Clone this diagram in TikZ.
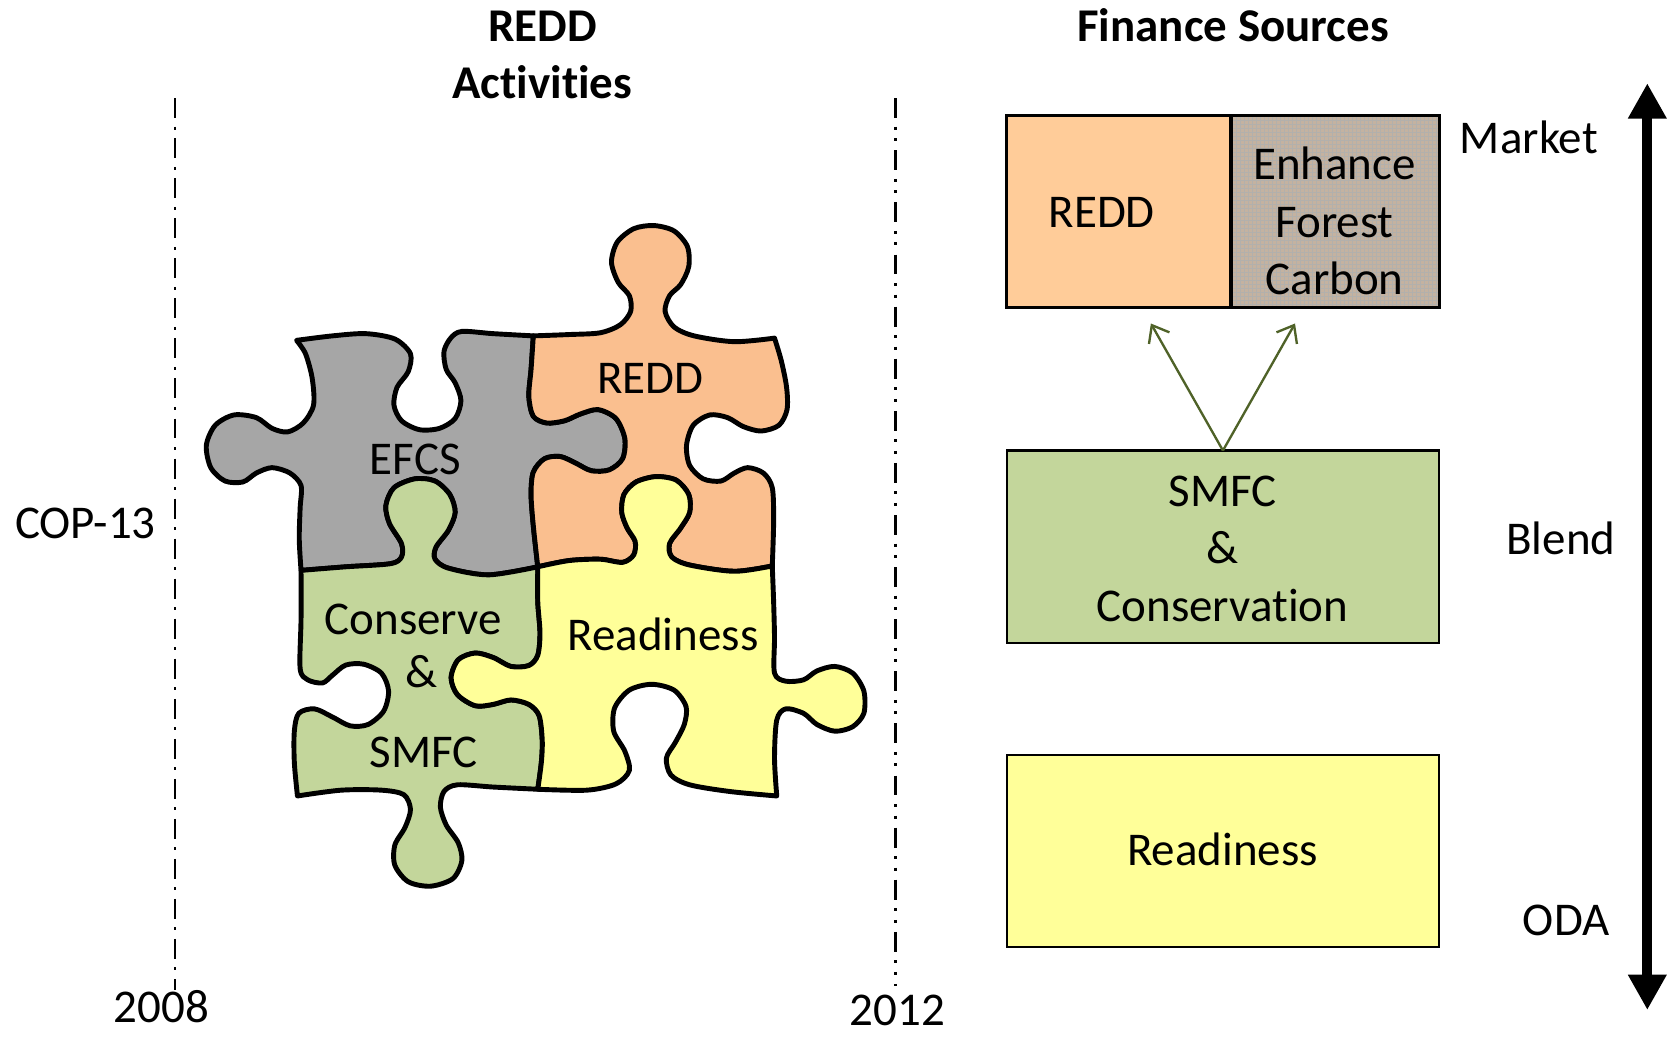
\documentclass[tikz,border=0pt]{standalone}
\usepackage{fontspec}
\setmainfont{Carlito}[Ligatures={NoCommon}]
\usetikzlibrary{arrows.meta}
\definecolor{pzgrey}{HTML}{A6A6A6}
\definecolor{pzorange}{HTML}{FABF8F}
\definecolor{pzgreen}{HTML}{C3D69B}
\definecolor{pzyellow}{HTML}{FFFF99}
\definecolor{peach}{HTML}{FFCC99}
\definecolor{efcfill}{RGB}{196,178,160}
\definecolor{efcgrid}{RGB}{178,176,172}
\definecolor{olivearrow}{HTML}{4F6228}
% puzzle edges (coordinates of the zoomed trace)
\def\GreyTop{-- plot[smooth] coordinates {(260,315) (340,305) (415,300) (480,312) (515,345) (510,385) (485,420) (478,460) (495,495) (535,515) (580,512) (615,490) (628,450) (615,410) (595,380) (590,340) (605,310) (630,295) (700,300) (790,305)}}
\def\GOF{-- plot[smooth] coordinates {(790,305) (785,380) (780,440) (790,485) (820,500) (860,495) (895,480) (935,470) (975,490) (995,535) (990,580) (960,605) (920,607) (885,590) (850,575) (815,580) (790,610) (785,660) (790,730) (800,822)}}
\def\GOR{-- plot[smooth] coordinates {(800,822) (790,730) (785,660) (790,610) (815,580) (850,575) (885,590) (920,607) (960,605) (990,580) (995,535) (975,490) (935,470) (895,480) (860,495) (820,500) (790,485) (780,440) (785,380) (790,305)}}
\def\OrangeTop{-- plot[smooth] coordinates {(790,305) (870,302) (940,298) (985,280) (1008,250) (1005,215) (980,185) (965,140) (978,95) (1015,65) (1060,58) (1105,70) (1135,105) (1138,150) (1120,190) (1095,215) (1085,250) (1105,285) (1150,305) (1240,318) (1330,310)}}
\def\OrangeRight{-- plot[smooth] coordinates {(1330,310) (1345,360) (1357,420) (1358,470) (1340,505) (1300,518) (1260,508) (1225,488) (1185,482) (1148,505) (1133,550) (1140,595) (1170,625) (1210,630) (1240,612) (1270,600) (1305,612) (1325,645) (1328,720) (1325,820)}}
\def\OYF{-- plot[smooth] coordinates {(800,822) (870,808) (940,805) (990,812) (1015,795) (1018,765) (1000,735) (988,700) (993,660) (1020,632) (1065,620) (1110,628) (1138,660) (1140,700) (1120,735) (1095,770) (1100,800) (1140,818) (1240,832) (1325,820)}}
\def\OYR{-- plot[smooth] coordinates {(1325,820) (1240,832) (1140,818) (1100,800) (1095,770) (1120,735) (1140,700) (1138,660) (1110,628) (1065,620) (1020,632) (993,660) (988,700) (1000,735) (1018,765) (1015,795) (990,812) (940,805) (870,808) (800,822)}}
\def\YellowRight{-- plot[smooth] coordinates {(1325,820) (1328,900) (1330,980) (1330,1060) (1355,1078) (1395,1075) (1425,1055) (1465,1045) (1505,1060) (1530,1100) (1530,1150) (1505,1180) (1465,1190) (1425,1175) (1395,1150) (1355,1140) (1335,1165) (1330,1250) (1335,1335)}}
\def\YellowBottom{-- plot[smooth] coordinates {(1335,1335) (1230,1325) (1140,1310) (1098,1288) (1088,1250) (1108,1215) (1128,1175) (1132,1135) (1105,1098) (1055,1085) (1005,1098) (972,1138) (970,1190) (995,1235) (1005,1278) (975,1308) (910,1322) (800,1320)}}
\def\GYF{-- plot[smooth] coordinates {(800,822) (800,900) (805,970) (800,1020) (780,1043) (740,1045) (700,1025) (660,1015) (622,1030) (606,1070) (620,1108) (660,1133) (700,1130) (740,1120) (780,1130) (803,1155) (810,1210) (808,1260) (800,1320)}}
\def\GYR{-- plot[smooth] coordinates {(800,1320) (808,1260) (810,1210) (803,1155) (780,1130) (740,1120) (700,1130) (660,1133) (620,1108) (606,1070) (622,1030) (660,1015) (700,1025) (740,1045) (780,1043) (800,1020) (805,970) (800,900) (800,822)}}
\def\GGF{-- plot[smooth] coordinates {(270,830) (370,822) (470,815) (495,800) (495,770) (468,725) (460,685) (478,645) (525,625) (570,630) (603,660) (615,700) (600,740) (572,778) (570,805) (600,825) (690,840) (800,822)}}
\def\GGR{-- plot[smooth] coordinates {(800,822) (690,840) (600,825) (570,805) (572,778) (600,740) (615,700) (603,660) (570,630) (525,625) (478,645) (460,685) (468,725) (495,770) (495,800) (470,815) (370,822) (270,830)}}
\def\GreenBottom{-- plot[smooth] coordinates {(800,1320) (700,1315) (620,1310) (590,1325) (582,1360) (595,1400) (622,1440) (630,1480) (610,1520) (560,1537) (510,1527) (480,1490) (480,1445) (503,1405) (515,1365) (500,1332) (450,1322) (360,1322) (262,1335)}}
\def\GreenLeft{-- plot[smooth] coordinates {(262,1335) (255,1260) (255,1190) (265,1150) (300,1140) (340,1158) (380,1178) (420,1175) (455,1145) (466,1100) (450,1060) (410,1040) (370,1042) (340,1065) (318,1082) (285,1075) (268,1050) (270,940) (270,830)}}
\def\GreyLeft{-- plot[smooth] coordinates {(270,830) (266,760) (268,690) (270,640) (245,612) (205,600) (170,612) (140,632) (100,630) (68,600) (58,550) (78,505) (120,482) (170,488) (205,512) (240,520) (275,500) (298,460) (295,400) (280,345) (260,315)}}
\begin{document}
\begin{tikzpicture}[x=1pt,y=-1pt,
  piece/.style={draw=black, line width=4.6pt, line join=round},
  lbl/.style={anchor=base, inner sep=0pt, font=\fontsize{44}{54}\selectfont},
  ttl/.style={anchor=base, inner sep=0pt, font=\bfseries\fontsize{44}{54}\selectfont},
  fbox/.style={draw=black, line width=2pt, anchor=north west, inner sep=0pt, outer sep=0pt, minimum height=180pt},
  timeA/.style={line width=2.6pt, dash pattern=on 18.7pt off 8pt on 2.8pt off 8pt},
  timeB/.style={line width=2.6pt, dash pattern=on 18.7pt off 8pt on 2.8pt off 8pt on 2.8pt off 8.5pt},
  garrow/.style={draw=olivearrow, line width=2.2pt, -{Straight Barb[length=14pt,width=22pt,line width=2.2pt]}},
  bigarrow/.style={line width=9.4pt, {Triangle[length=33pt,width=34pt]}-{Triangle[length=33pt,width=34pt]}}]
\useasboundingbox (0,0) rectangle (1568,972);

% titles
\node[ttl] (t1) at (508,39) {REDD};
\node[ttl] (t2) at (508,92) {Activities};
\node[ttl] (t3) at (1155,39) {Finance Sources};

% time lines
\coordinate (l1a) at (164,92);
\coordinate (l1b) at (164,927);
\coordinate (l2a) at (838.6,92);
\coordinate (l2b) at (838.6,924);
\draw[timeA] (l1a) -- (l1b);
\draw[timeB] (l2a) -- (l2b);
\node[lbl] (y1) at (151,958) {2008};
\node[lbl] (y2) at (840.5,961) {2012};
\node[lbl] (cop) at (80,504) {COP-13};

% puzzle
\begin{scope}[shift={(169,187)}, scale=0.4184]
  \path[piece, fill=pzgrey] (260,315) \GreyTop \GOF \GGR \GreyLeft -- cycle;
  \path[piece, fill=pzorange] (790,305) \OrangeTop \OrangeRight \OYR \GOR -- cycle;
  \path[piece, fill=pzgreen] (270,830) \GGF \GYF \GreenBottom \GreenLeft -- cycle;
  \path[piece, fill=pzyellow] (800,822) \OYF \YellowRight \YellowBottom \GYR -- cycle;
\end{scope}
\node[lbl] (pefcs) at (389,444) {EFCS};
\node[lbl] (predd) at (609,369) {REDD};
\node[lbl] (pcons) at (387,594) {Conserve};
\node[lbl] (pamp) at (395,644) {\&};
\node[lbl] (psmfc) at (397,719) {SMFC};
\node[lbl] (pread) at (621,609) {Readiness};

% finance boxes
\node[fbox, fill=peach, minimum width=210pt] (fredd) at (943,108) {};
\node[fbox, fill=efcfill, minimum width=195pt] (fefc) at (1153,108) {};
\begin{scope}
  \clip (1153,108) rectangle (1348,288);
  \foreach \gx in {1154,1157.75,...,1350} {\draw[efcgrid, line width=0.5pt] (\gx,108) -- (\gx,288);}
  \foreach \gy in {109,112.75,...,290} {\draw[efcgrid, line width=0.5pt] (1153,\gy) -- (1348,\gy);}
\end{scope}
\draw[line width=3pt] (fredd.north west) rectangle (fefc.south east);
\draw[line width=3pt] (fefc.north west) -- (fefc.south west);
\node[lbl] (treddf) at (1032,213) {REDD};
\node[lbl] (te1) at (1250,168) {Enhance};
\node[lbl] (te2) at (1250,222) {Forest};
\node[lbl] (te3) at (1250,276) {Carbon};

\node[fbox, fill=pzgreen, minimum width=405pt] (fsmfc) at (943,422) {};
\node[lbl] (ts1) at (1145,474) {SMFC};
\node[lbl] (ts2) at (1145,528) {\&};
\node[lbl] (ts3) at (1145,582) {Conservation};

\node[fbox, fill=pzyellow, minimum width=405pt] (fread) at (943,707) {};
\node[lbl] (tr) at (1145,811) {Readiness};

\coordinate (tipL) at (1078,303);
\coordinate (tipR) at (1213,303);
\draw[garrow] (fsmfc.north) -- (tipL);
\draw[garrow] (fsmfc.north) -- (tipR);

% scale labels and arrow
\node[lbl] (mk) at (1432,144) {Market};
\node[lbl] (bl) at (1462,519) {Blend};
\node[lbl] (od) at (1467,876) {ODA};
\coordinate (atop) at (1543,78);
\coordinate (abot) at (1543,946);
\draw[bigarrow] (atop) -- (abot);
\end{tikzpicture}
\end{document}
